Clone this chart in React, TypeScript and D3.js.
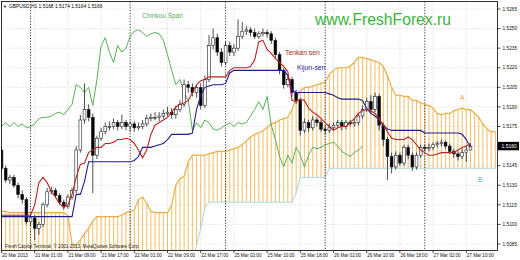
import React from 'react';
import * as d3 from 'd3';

// ---------- data ----------
const timeLabels = ['20 Mar 2013', '21 Mar 01:00', '21 Mar 09:00', '21 Mar 17:00', '22 Mar 01:00', '22 Mar 09:00', '22 Mar 17:00', '25 Mar 02:00', '25 Mar 10:00', '25 Mar 18:00', '26 Mar 02:00', '26 Mar 10:00', '26 Mar 18:00', '27 Mar 02:00', '27 Mar 10:00'];
const labelBars = [0, 8, 16, 24, 32, 40, 48, 56, 64, 72, 80, 88, 96, 104, 112];
const daySeparators = [7, 31, 54, 78, 102];
const priceTicks = [1.5085, 1.5100, 1.5115, 1.5130, 1.5145, 1.5160, 1.5175, 1.5190, 1.5205, 1.5220, 1.5235, 1.5250, 1.5265];
const lastPrice = 1.5160;
const headerText = 'GBPUSD,H1  1.5168 1.5174 1.5164 1.5166';

const opens = [
  1.5157, 1.5143, 1.5134, 1.5136, 1.5130, 1.5123, 1.5119, 1.5102, 1.5105, 1.5097,
  1.5100, 1.5115, 1.5125, 1.5126, 1.5122, 1.5117, 1.5114, 1.5121, 1.5126, 1.5157,
  1.5180, 1.5188, 1.5182, 1.5153, 1.5166, 1.5171, 1.5175, 1.5175, 1.5178, 1.5175,
  1.5178, 1.5175, 1.5177, 1.5174, 1.5175, 1.5177, 1.5181, 1.5182, 1.5182, 1.5183,
  1.5185, 1.5186, 1.5184, 1.5188, 1.5192, 1.5207, 1.5205, 1.5201, 1.5205, 1.5191,
  1.5211, 1.5237, 1.5243, 1.5232, 1.5224, 1.5237, 1.5232, 1.5235, 1.5244, 1.5248,
  1.5249, 1.5247, 1.5244, 1.5246, 1.5247, 1.5246, 1.5241, 1.5230, 1.5218, 1.5207,
  1.5211, 1.5201, 1.5195, 1.5172, 1.5178, 1.5174, 1.5180, 1.5178, 1.5173, 1.5172,
  1.5174, 1.5176, 1.5178, 1.5175, 1.5178, 1.5177, 1.5178, 1.5183, 1.5188, 1.5194,
  1.5188, 1.5198, 1.5176, 1.5165, 1.5152, 1.5144, 1.5153, 1.5147, 1.5159, 1.5153,
  1.5144, 1.5153, 1.5159, 1.5158, 1.5159, 1.5161, 1.5162, 1.5163, 1.5160, 1.5156,
  1.5154, 1.5152, 1.5155, 1.5157,
];
const highs = [
  1.5160, 1.5145, 1.5138, 1.5138, 1.5132, 1.5126, 1.5121, 1.5108, 1.5107, 1.5102,
  1.5117, 1.5128, 1.5129, 1.5128, 1.5124, 1.5119, 1.5123, 1.5128, 1.5160, 1.5184,
  1.5208, 1.5192, 1.5185, 1.5168, 1.5174, 1.5178, 1.5179, 1.5181, 1.5180, 1.5184,
  1.5180, 1.5179, 1.5179, 1.5178, 1.5180, 1.5184, 1.5185, 1.5186, 1.5186, 1.5188,
  1.5190, 1.5189, 1.5191, 1.5195, 1.5211, 1.5210, 1.5208, 1.5207, 1.5208, 1.5214,
  1.5245, 1.5250, 1.5246, 1.5235, 1.5240, 1.5240, 1.5238, 1.5257, 1.5255, 1.5252,
  1.5251, 1.5250, 1.5248, 1.5250, 1.5249, 1.5248, 1.5243, 1.5232, 1.5220, 1.5214,
  1.5213, 1.5203, 1.5197, 1.5181, 1.5180, 1.5183, 1.5182, 1.5180, 1.5176, 1.5177,
  1.5178, 1.5180, 1.5180, 1.5180, 1.5180, 1.5181, 1.5185, 1.5191, 1.5197, 1.5199,
  1.5201, 1.5200, 1.5178, 1.5167, 1.5155, 1.5156, 1.5155, 1.5161, 1.5161, 1.5155,
  1.5155, 1.5161, 1.5161, 1.5162, 1.5163, 1.5164, 1.5165, 1.5164, 1.5162, 1.5158,
  1.5156, 1.5158, 1.5160, 1.5162,
];
const lows = [
  1.5140, 1.5132, 1.5131, 1.5128, 1.5120, 1.5116, 1.5100, 1.5099, 1.5088, 1.5092,
  1.5098, 1.5113, 1.5123, 1.5120, 1.5115, 1.5111, 1.5112, 1.5119, 1.5124, 1.5155,
  1.5177, 1.5179, 1.5124, 1.5150, 1.5164, 1.5169, 1.5172, 1.5173, 1.5172, 1.5173,
  1.5172, 1.5171, 1.5171, 1.5172, 1.5173, 1.5175, 1.5179, 1.5180, 1.5179, 1.5181,
  1.5183, 1.5181, 1.5181, 1.5186, 1.5190, 1.5201, 1.5198, 1.5197, 1.5188, 1.5189,
  1.5209, 1.5234, 1.5229, 1.5221, 1.5222, 1.5229, 1.5229, 1.5233, 1.5242, 1.5245,
  1.5244, 1.5242, 1.5242, 1.5244, 1.5243, 1.5238, 1.5227, 1.5215, 1.5204, 1.5205,
  1.5198, 1.5192, 1.5168, 1.5170, 1.5171, 1.5172, 1.5175, 1.5171, 1.5169, 1.5170,
  1.5172, 1.5174, 1.5172, 1.5173, 1.5175, 1.5175, 1.5176, 1.5181, 1.5186, 1.5185,
  1.5186, 1.5172, 1.5160, 1.5134, 1.5139, 1.5142, 1.5145, 1.5145, 1.5150, 1.5141,
  1.5142, 1.5151, 1.5156, 1.5156, 1.5157, 1.5159, 1.5160, 1.5158, 1.5154, 1.5151,
  1.5149, 1.5150, 1.5148, 1.5157,
];
const closes = [
  1.5143, 1.5134, 1.5136, 1.5130, 1.5123, 1.5119, 1.5102, 1.5105, 1.5097, 1.5100,
  1.5115, 1.5125, 1.5126, 1.5122, 1.5117, 1.5114, 1.5121, 1.5126, 1.5157, 1.5180,
  1.5188, 1.5182, 1.5153, 1.5166, 1.5171, 1.5175, 1.5175, 1.5178, 1.5175, 1.5178,
  1.5175, 1.5177, 1.5174, 1.5175, 1.5177, 1.5181, 1.5182, 1.5182, 1.5183, 1.5185,
  1.5186, 1.5184, 1.5188, 1.5192, 1.5207, 1.5205, 1.5201, 1.5205, 1.5191, 1.5211,
  1.5237, 1.5243, 1.5232, 1.5224, 1.5237, 1.5232, 1.5235, 1.5244, 1.5248, 1.5249,
  1.5247, 1.5244, 1.5246, 1.5247, 1.5246, 1.5241, 1.5230, 1.5218, 1.5207, 1.5211,
  1.5201, 1.5195, 1.5172, 1.5178, 1.5174, 1.5180, 1.5178, 1.5173, 1.5172, 1.5174,
  1.5176, 1.5178, 1.5175, 1.5178, 1.5177, 1.5178, 1.5183, 1.5188, 1.5194, 1.5188,
  1.5198, 1.5176, 1.5165, 1.5152, 1.5144, 1.5153, 1.5147, 1.5159, 1.5153, 1.5144,
  1.5153, 1.5159, 1.5158, 1.5159, 1.5161, 1.5162, 1.5163, 1.5160, 1.5156, 1.5154,
  1.5152, 1.5155, 1.5157, 1.5160,
];

const tenkan = [
  1.5107, 1.5107, 1.5107, 1.5107, 1.5107, 1.5107, 1.5107, 1.5107, 1.5115, 1.5132,
  1.5136, 1.5132, 1.5125, 1.5121, 1.5116, 1.5113, 1.5115, 1.5123, 1.5136, 1.5146,
  1.5147, 1.5155, 1.5157, 1.5159, 1.5159, 1.5162, 1.5162, 1.5163, 1.5165, 1.5165,
  1.5166, 1.5165, 1.5162, 1.5157, 1.5151, 1.5157, 1.5169, 1.5176, 1.5178, 1.5180,
  1.5182, 1.5186, 1.5190, 1.5192, 1.5193, 1.5195, 1.5201, 1.5207, 1.5210, 1.5211,
  1.5213, 1.5213, 1.5213, 1.5213, 1.5213, 1.5218, 1.5220, 1.5220, 1.5220, 1.5220,
  1.5221, 1.5226, 1.5240, 1.5241, 1.5234, 1.5231, 1.5227, 1.5224, 1.5221, 1.5217,
  1.5195, 1.5194, 1.5196, 1.5195, 1.5189, 1.5186, 1.5184, 1.5181, 1.5178, 1.5175,
  1.5172, 1.5174, 1.5175, 1.5175, 1.5178, 1.5181, 1.5185, 1.5187, 1.5188, 1.5187,
  1.5185, 1.5181, 1.5176, 1.5171, 1.5166, 1.5165, 1.5165, 1.5165, 1.5167, 1.5165,
  1.5161, 1.5157, 1.5155, 1.5153, 1.5153, 1.5154, 1.5155, 1.5155, 1.5155, 1.5155,
  1.5157, 1.5159, 1.5160, 1.5162,
];
const kijun = [
  1.5106, 1.5106, 1.5106, 1.5106, 1.5106, 1.5106, 1.5106, 1.5106, 1.5106, 1.5106,
  1.5106, 1.5106, 1.5106, 1.5106, 1.5106, 1.5106, 1.5106, 1.5106, 1.5123, 1.5123,
  1.5133, 1.5148, 1.5148, 1.5148, 1.5148, 1.5148, 1.5148, 1.5148, 1.5148, 1.5148,
  1.5148, 1.5148, 1.5149, 1.5152, 1.5159, 1.5159, 1.5159, 1.5160, 1.5161, 1.5162,
  1.5165, 1.5169, 1.5169, 1.5169, 1.5169, 1.5169, 1.5170, 1.5188, 1.5199, 1.5205,
  1.5206, 1.5207, 1.5207, 1.5207, 1.5208, 1.5216, 1.5218, 1.5218, 1.5218, 1.5218,
  1.5218, 1.5218, 1.5218, 1.5218, 1.5218, 1.5218, 1.5218, 1.5218, 1.5218, 1.5214,
  1.5203, 1.5201, 1.5201, 1.5201, 1.5201, 1.5201, 1.5201, 1.5201, 1.5201, 1.5200,
  1.5199, 1.5197, 1.5196, 1.5196, 1.5196, 1.5196, 1.5196, 1.5195, 1.5189, 1.5185,
  1.5183, 1.5180, 1.5176, 1.5173, 1.5172, 1.5172, 1.5172, 1.5172, 1.5172, 1.5172,
  1.5172, 1.5172, 1.5170, 1.5170, 1.5170, 1.5170, 1.5170, 1.5170, 1.5170, 1.5170,
  1.5170, 1.5169, 1.5165, 1.5159,
];
const chinkou = [
  1.5175, 1.5178, 1.5175, 1.5178, 1.5175, 1.5177, 1.5174, 1.5175, 1.5177, 1.5181,
  1.5182, 1.5182, 1.5183, 1.5185, 1.5186, 1.5184, 1.5188, 1.5192, 1.5207, 1.5205,
  1.5201, 1.5205, 1.5191, 1.5211, 1.5237, 1.5243, 1.5232, 1.5224, 1.5237, 1.5232,
  1.5235, 1.5244, 1.5248, 1.5249, 1.5247, 1.5244, 1.5246, 1.5247, 1.5246, 1.5241,
  1.5230, 1.5218, 1.5207, 1.5211, 1.5201, 1.5195, 1.5172, 1.5178, 1.5174, 1.5180,
  1.5178, 1.5173, 1.5172, 1.5174, 1.5176, 1.5178, 1.5175, 1.5178, 1.5177, 1.5178,
  1.5183, 1.5188, 1.5194, 1.5188, 1.5198, 1.5176, 1.5165, 1.5152, 1.5144, 1.5153,
  1.5147, 1.5159, 1.5153, 1.5144, 1.5153, 1.5159, 1.5158, 1.5159, 1.5161, 1.5162,
  1.5163, 1.5160, 1.5156, 1.5154, 1.5152, 1.5155, 1.5157, 1.5160,
];
const senkouA = [
  1.5110, 1.5110, 1.5109, 1.5109, 1.5109, 1.5109, 1.5109, 1.5109, 1.5109, 1.5109,
  1.5109, 1.5109, 1.5109, 1.5109, 1.5109, 1.5109, 1.5107, 1.5085, 1.5084, 1.5088,
  1.5093, 1.5097, 1.5103, 1.5106, 1.5106, 1.5106, 1.5106, 1.5106, 1.5106, 1.5107,
  1.5109, 1.5110, 1.5111, 1.5119, 1.5121, 1.5116, 1.5110, 1.5109, 1.5109, 1.5109,
  1.5109, 1.5115, 1.5130, 1.5135, 1.5137, 1.5148, 1.5153, 1.5153, 1.5153, 1.5153,
  1.5154, 1.5155, 1.5156, 1.5156, 1.5156, 1.5157, 1.5158, 1.5159, 1.5161, 1.5164,
  1.5167, 1.5169, 1.5170, 1.5172, 1.5174, 1.5177, 1.5178, 1.5180, 1.5181, 1.5182,
  1.5188, 1.5197, 1.5202, 1.5205, 1.5205, 1.5206, 1.5207, 1.5208, 1.5209, 1.5215,
  1.5218, 1.5220, 1.5220, 1.5220, 1.5221, 1.5224, 1.5228, 1.5228, 1.5227, 1.5226,
  1.5225, 1.5224, 1.5221, 1.5214, 1.5205, 1.5199, 1.5199, 1.5198, 1.5198, 1.5195,
  1.5195, 1.5193, 1.5192, 1.5191, 1.5189, 1.5185, 1.5184, 1.5185, 1.5185, 1.5187,
  1.5188, 1.5189, 1.5188, 1.5188, 1.5185, 1.5182, 1.5177, 1.5173, 1.5171, 1.5171,
];
const senkouB = [
  1.5065, 1.5065, 1.5065, 1.5065, 1.5065, 1.5065, 1.5065, 1.5065, 1.5065, 1.5065,
  1.5065, 1.5065, 1.5065, 1.5065, 1.5065, 1.5065, 1.5065, 1.5065, 1.5065, 1.5065,
  1.5065, 1.5065, 1.5065, 1.5065, 1.5065, 1.5065, 1.5065, 1.5065, 1.5065, 1.5065,
  1.5065, 1.5065, 1.5065, 1.5065, 1.5065, 1.5065, 1.5065, 1.5065, 1.5065, 1.5065,
  1.5065, 1.5065, 1.5065, 1.5065, 1.5065, 1.5065, 1.5071, 1.5084, 1.5097, 1.5113,
  1.5117, 1.5117, 1.5117, 1.5117, 1.5117, 1.5117, 1.5117, 1.5117, 1.5117, 1.5117,
  1.5117, 1.5117, 1.5117, 1.5117, 1.5117, 1.5117, 1.5117, 1.5117, 1.5117, 1.5117,
  1.5117, 1.5124, 1.5136, 1.5136, 1.5136, 1.5136, 1.5136, 1.5136, 1.5136, 1.5143,
  1.5143, 1.5143, 1.5143, 1.5143, 1.5143, 1.5143, 1.5143, 1.5143, 1.5143, 1.5143,
  1.5143, 1.5143, 1.5143, 1.5143, 1.5143, 1.5143, 1.5143, 1.5143, 1.5143, 1.5143,
  1.5143, 1.5143, 1.5143, 1.5143, 1.5143, 1.5143, 1.5143, 1.5143, 1.5143, 1.5143,
  1.5143, 1.5143, 1.5143, 1.5143, 1.5143, 1.5143, 1.5143, 1.5143, 1.5143, 1.5143,
];

// ---------- component ----------
const FONT = '"Liberation Sans", Arial, sans-serif';

export default function App() {
  const W = 520, H = 260;
  const L = 1.5, R = 497.5, T = 1.5, B = 250.5;
  const x = d3.scaleLinear().domain([0, 119]).range([1.5, 1.5 + 4.15 * 119]);
  const y = d3.scaleLinear().domain([1.5085, 1.5265]).range([244, 9]);
  const lineGen = d3.line<number>().x((_, i) => x(i)).y((d) => y(d));

  const bodyW = 2.8;

  return (
    <svg width={W} height={H} style={{ position: 'fixed', left: 0, top: 0, background: '#fff' }} fontFamily={FONT}>
      <defs>
        <clipPath id="plot">
          <rect x={L} y={T} width={R - L} height={B - T} />
        </clipPath>
      </defs>
      <rect x={0} y={0} width={W} height={H} fill="#fff" />

      {/* grid */}
      <g stroke="#c4c4c4" strokeWidth={0.7} strokeDasharray="1,2">
        {priceTicks.map((p) => (
          <line key={'h' + p} x1={L} x2={R} y1={y(p)} y2={y(p)} />
        ))}
        {labelBars.map((b) => (
          <line key={'v' + b} x1={x(b)} x2={x(b)} y1={T} y2={B} />
        ))}
      </g>

      <g clipPath="url(#plot)">
        {/* cloud stripes */}
        <g stroke="#F2B850" strokeWidth={0.9}>
          {senkouA.map((a, i) => (
            <line key={'s' + i} x1={x(i)} x2={x(i)} y1={y(a)} y2={y(senkouB[i])} />
          ))}
        </g>
        <path d={lineGen(senkouB) || ''} fill="none" stroke="#a6d8e2" strokeWidth={1} />
        <path d={lineGen(senkouA) || ''} fill="none" stroke="#E8AE45" strokeWidth={1.2} />

        {/* day separators */}
        <g stroke="#000" strokeWidth={0.8} strokeDasharray="1.2,1.6">
          {daySeparators.map((b) => (
            <line key={'d' + b} x1={x(b)} x2={x(b)} y1={T} y2={B} />
          ))}
        </g>

        {/* chinkou */}
        <path d={lineGen(chinkou) || ''} fill="none" stroke="#55b055" strokeWidth={1} />

        {/* candles */}
        {closes.map((c, i) => {
          const o = opens[i];
          const bull = c >= o;
          const top = y(Math.max(o, c));
          const bot = y(Math.min(o, c));
          const h = Math.max(bot - top, 0.8);
          return (
            <g key={'c' + i}>
              <line x1={x(i)} x2={x(i)} y1={y(highs[i])} y2={y(lows[i])} stroke="#222" strokeWidth={0.8} />
              <rect
                x={x(i) - bodyW / 2}
                y={top}
                width={bodyW}
                height={h}
                fill={bull ? '#fff' : '#000'}
                stroke="#222"
                strokeWidth={0.6}
              />
            </g>
          );
        })}

        {/* kijun & tenkan */}
        <path d={lineGen(kijun) || ''} fill="none" stroke="#1e1e8c" strokeWidth={1.1} />
        <path d={lineGen(tenkan) || ''} fill="none" stroke="#b8231f" strokeWidth={1.1} />
      </g>

      {/* frame */}
      <rect x={L} y={T} width={R - L} height={B - T} fill="none" stroke="#000" strokeWidth={0.8} />

      {/* price axis */}
      {priceTicks.map((p) => (
        <g key={'pt' + p}>
          <line x1={R} x2={R + 3} y1={y(p)} y2={y(p)} stroke="#000" strokeWidth={0.7} />
          <text x={R + 5} y={y(p) + 1.7} fontSize={4.8} fill="#111">
            {d3.format('.4f')(p)}
          </text>
        </g>
      ))}
      <rect x={R + 0.5} y={y(lastPrice) - 4.2} width={21} height={8.4} fill="#000" />
      <text x={R + 4} y={y(lastPrice) + 1.8} fontSize={5} fill="#fff">
        {d3.format('.4f')(lastPrice)}
      </text>

      {/* time axis */}
      {labelBars.map((b, k) => (
        <g key={'tl' + b}>
          <line x1={x(b)} x2={x(b)} y1={B} y2={B + 2.5} stroke="#000" strokeWidth={0.7} />
          <text x={x(b) + 0.5} y={257} fontSize={4.6} fill="#111">
            {timeLabels[k]}
          </text>
        </g>
      ))}

      {/* header */}
      <text x={3} y={8} fontSize={4} fill="#000">▼</text>
      <text x={9} y={8} fontSize={4.9} fill="#000">{headerText}</text>

      {/* annotations */}
      <text x={142} y={18} fontSize={6.5} fill="#5aad5a">Chinkou Span</text>
      <text x={315} y={25} fontSize={15.7} fill="#3cb43c">www.FreshForex.ru</text>
      <text x={285} y={55} fontSize={6.8} fill="#a52a2a">Tenkan sen</text>
      <text x={297} y={70} fontSize={6.8} fill="#2a2a9a">Kijun-sen</text>
      <text x={460} y={100} fontSize={6.5} fill="#d4a040">A</text>
      <text x={478} y={182} fontSize={6.5} fill="#48a8b8">B</text>
      <text x={5} y={247.5} fontSize={4.6} fill="#222">Fresh Capital Terminal, © 2001-2013, MetaQuotes Software Corp.</text>
    </svg>
  );
}
